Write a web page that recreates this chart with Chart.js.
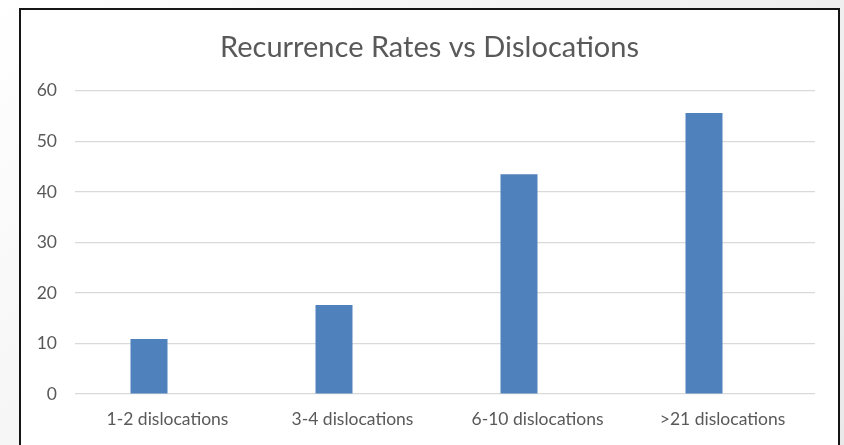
<!DOCTYPE html>
<html>
<head>
<meta charset="utf-8">
<title>Recurrence Rates vs Dislocations</title>
<script src="https://cdn.jsdelivr.net/npm/chart.js@4.4.1/dist/chart.umd.min.js"></script>
<style>
  html, body { margin: 0; padding: 0; }
  body {
    width: 844px; height: 445px; overflow: hidden; position: relative;
    background: linear-gradient(135deg, #ffffff 0%, #f3f3f3 45%, #e9e9e9 100%);
  }
  #panel {
    position: absolute; left: 19px; top: 8px; width: 817px; height: 460px;
    background: #ffffff; border: 2px solid #151515;
  }
  #chart { position: absolute; left: 21px; top: 10px; }
</style>
</head>
<body>
<div id="panel"></div>
<canvas id="chart" width="817" height="435"></canvas>
<script>
// Recurrence rate (%) by number of prior dislocations
const categories = ['1-2 dislocations', '3-4 dislocations', '6-10 dislocations', '>21 dislocations'];
const recurrenceRates = [10.9, 17.6, 43.5, 55.6];
// second (empty) series slot keeps the bars left of each category centre
const emptySeries = [null, null, null, null];
const yMin = 0;
const yMax = 60;
const yStep = 10;

const textColor = '#595959';
const fontFamily = 'Lato, "Open Sans", sans-serif';

new Chart(document.getElementById('chart'), {
  type: 'bar',
  data: {
    labels: categories,
    datasets: [
      {
        label: 'Recurrence rate',
        data: recurrenceRates,
        backgroundColor: '#4f81bd',
        borderWidth: 0,
        categoryPercentage: 0.4,
        barPercentage: 1.0
      },
      {
        label: '',
        data: emptySeries,
        backgroundColor: 'rgba(0,0,0,0)',
        categoryPercentage: 0.4,
        barPercentage: 1.0
      }
    ]
  },
  options: {
    responsive: false,
    animation: false,
    devicePixelRatio: 1,
    layout: { padding: 0 },
    plugins: {
      legend: { display: false },
      tooltip: { enabled: false },
      title: {
        display: true,
        text: 'Recurrence Rates vs Dislocations',
        color: textColor,
        font: { family: fontFamily, size: 29, weight: 'normal', lineHeight: 1.2 },
        padding: { top: 20, bottom: 26 }
      }
    },
    scales: {
      x: {
        grid: { display: false, drawTicks: false },
        border: { display: false },
        ticks: {
          color: textColor,
          font: { family: fontFamily, size: 17.5 },
          padding: 15,
          maxRotation: 0,
          autoSkip: false
        },
        afterFit(scale) { scale.height = 51; }
      },
      y: {
        min: yMin,
        max: yMax,
        grid: { color: '#d9d9d9', lineWidth: 1.2, drawTicks: false },
        border: { display: false },
        ticks: {
          stepSize: yStep,
          color: textColor,
          font: { family: fontFamily, size: 17.5 },
          padding: 18
        },
        afterFit(scale) { scale.width = 54; }
      },
      // blank right-hand margin inside the plot frame
      yRight: {
        position: 'right',
        min: yMin,
        max: yMax,
        grid: { display: false, drawTicks: false },
        border: { display: false },
        ticks: { display: false },
        afterFit(scale) { scale.width = 23; }
      }
    }
  }
});
</script>
</body>
</html>
